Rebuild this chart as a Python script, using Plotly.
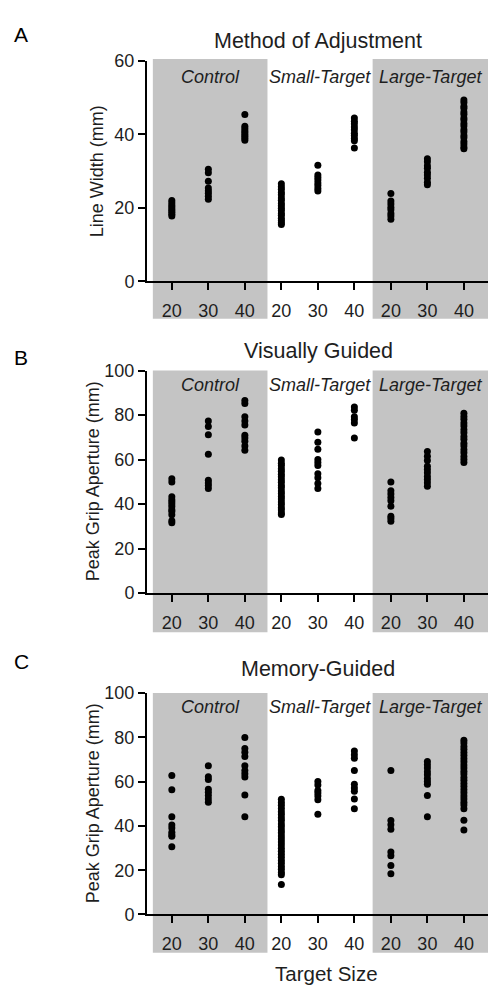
import plotly.graph_objects as go

# ---------------- data ----------------
groups = ["Control", "Small-Target", "Large-Target"]
sizes = [20, 30, 40]
panel_titles = ["Method of Adjustment", "Visually Guided", "Memory-Guided"]
panel_letters = ["A", "B", "C"]
y_titles = ["Line Width (mm)", "Peak Grip Aperture (mm)", "Peak Grip Aperture (mm)"]
y_max = [60, 100, 100]
x_title = "Target Size"

# Panel A: Method of Adjustment
A_ctrl_20 = [22.0, 21.4, 20.8, 20.3, 19.8, 19.3, 18.8, 18.3, 17.8]
A_ctrl_30 = [30.5, 29.6, 27.3, 25.4, 24.7, 24.0, 23.2, 22.4]
A_ctrl_40 = [45.4, 42.2, 41.6, 41.0, 40.5, 40.0, 39.5, 39.0, 38.4]
A_small_20 = [26.6, 25.8, 25.1, 24.2, 23.6, 22.7, 22.1, 21.2, 20.6, 19.9,
              19.3, 18.5, 18.0, 17.2, 16.6, 16.0, 15.5]
A_small_30 = [31.6, 29.0, 28.3, 27.6, 26.8, 26.1, 25.3, 24.6]
A_small_40 = [44.5, 43.6, 42.9, 42.0, 41.3, 40.3, 39.7, 38.9, 38.3, 36.3]
A_large_20 = [23.9, 21.9, 21.1, 20.2, 19.5, 18.5, 17.8, 16.9]
A_large_30 = [33.4, 32.6, 31.5, 30.8, 29.7, 29.0, 28.1, 27.0, 26.3]
A_large_40 = [49.4, 48.7, 47.7, 47.1, 46.1, 45.5, 44.5, 43.9, 43.0, 42.3,
              41.3, 40.7, 39.7, 39.1, 38.1, 37.4, 36.6, 36.1]

# Panel B: Visually Guided
B_ctrl_20 = [51.4, 49.9, 43.3, 42.0, 41.1, 40.0, 38.9, 37.5, 36.7, 35.2, 32.5, 31.6]
B_ctrl_30 = [77.4, 74.9, 71.2, 62.4, 50.7, 49.5, 48.3, 47.0]
B_ctrl_40 = [86.6, 85.2, 79.3, 77.4, 75.6, 71.0, 69.7, 68.3, 66.1, 64.2]
B_small_20 = [59.8, 58.4, 57.3, 55.9, 54.8, 53.4, 52.3, 50.9, 49.8, 48.4,
              47.3, 45.9, 44.8, 43.4, 42.3, 40.9, 39.8, 38.4, 37.3, 36.0, 35.3]
B_small_30 = [72.4, 67.8, 64.6, 60.0, 58.7, 57.3, 53.6, 51.8, 49.2, 47.0]
B_small_40 = [83.7, 82.2, 79.3, 78.0, 76.5, 69.7]
B_large_20 = [49.9, 46.0, 44.5, 43.0, 41.5, 39.0, 34.5, 33.5, 32.3]
B_large_30 = [63.6, 61.5, 59.6, 57.0, 55.6, 54.1, 52.4, 51.0, 49.6, 48.0]
B_large_40 = [80.8, 79.4, 78.1, 76.4, 75.1, 73.4, 72.1, 70.4, 69.1, 67.4,
              66.1, 64.4, 63.1, 61.4, 60.1, 58.7]

# Panel C: Memory-Guided
C_ctrl_20 = [62.8, 56.3, 44.1, 40.4, 39.0, 37.1, 36.0, 35.3, 30.6]
C_ctrl_30 = [67.2, 62.2, 61.0, 56.6, 55.2, 53.7, 52.2, 50.7]
C_ctrl_40 = [79.9, 75.0, 73.2, 71.3, 67.2, 65.0, 63.5, 62.1, 54.0, 44.1]
C_small_20 = [52.0, 50.6, 49.3, 47.9, 46.4, 45.1, 43.7, 42.4, 40.9, 39.6,
              38.2, 36.9, 35.4, 34.1, 32.7, 31.4, 29.9, 28.6, 27.2, 25.9,
              24.4, 23.1, 21.7, 20.4, 19.0, 17.9, 13.5]
C_small_30 = [60.0, 58.5, 56.0, 54.8, 53.5, 51.8, 45.3]
C_small_40 = [73.8, 72.1, 70.6, 65.0, 58.8, 57.1, 55.6, 52.2, 47.8]
C_large_20 = [65.0, 42.4, 40.5, 38.5, 28.2, 26.5, 22.1, 18.4]
C_large_30 = [69.1, 67.6, 66.1, 64.4, 63.1, 61.4, 60.1, 58.8, 53.7, 44.1]
C_large_40 = [78.7, 77.4, 75.9, 74.6, 73.1, 71.8, 70.3, 69.0, 67.5, 66.2,
              64.7, 63.4, 61.9, 60.6, 59.1, 57.8, 56.3, 55.0, 53.5, 52.2,
              50.7, 49.4, 47.8, 42.6, 38.2]

panels = [
    [[A_ctrl_20, A_ctrl_30, A_ctrl_40], [A_small_20, A_small_30, A_small_40], [A_large_20, A_large_30, A_large_40]],
    [[B_ctrl_20, B_ctrl_30, B_ctrl_40], [B_small_20, B_small_30, B_small_40], [B_large_20, B_large_30, B_large_40]],
    [[C_ctrl_20, C_ctrl_30, C_ctrl_40], [C_small_20, C_small_30, C_small_40], [C_large_20, C_large_30, C_large_40]],
]

# ---------------- layout geometry (pixels) ----------------
W, H = 490, 997
X_LEFT, X_RIGHT = 147, 488
X_RANGE = [0.32, 9.66]
geo = [
    dict(y0=277, ytop=52, btop=50, bbot=315, title=32, letter=25, glabel=68, ytx=97),
    dict(y0=595, ytop=368, btop=368, bbot=635, title=348, letter=355, glabel=383, ytx=92.5),
    dict(y0=923, ytop=697, btop=697, bbot=962, title=673, letter=665, glabel=711, ytx=92.5),
]
BANDS = [(0.48, 3.62), (6.5, 9.66)]
FONT = "Liberation Sans, Arial, Helvetica, sans-serif"
TXT = "#1e1e1e"


def py(px):
    return 1 - px / H


fig = go.Figure()
layout = dict(width=W, height=H, margin=dict(l=0, r=0, t=0, b=0),
              paper_bgcolor="white", plot_bgcolor="rgba(0,0,0,0)",
              showlegend=False, font=dict(family=FONT, color=TXT))
shapes, annotations = [], []

tickvals = [g * 3 + s + 1 for g in range(3) for s in range(3)]
ticktext = [str(sizes[s]) for g in range(3) for s in range(3)]

for p in range(3):
    sfx = "" if p == 0 else str(p + 1)
    xs, ys = [], []
    for g in range(3):
        for s in range(3):
            vals = panels[p][g][s]
            xs += [g * 3 + s + 1] * len(vals)
            ys += vals
    fig.add_trace(go.Scatter(x=xs, y=ys, mode="markers",
                             marker=dict(color="black", size=7, line=dict(width=0)),
                             xaxis="x" + sfx, yaxis="y" + sfx, hoverinfo="skip"))
    G = geo[p]
    axstyle = dict(showline=True, linecolor="black", linewidth=2, ticks="outside",
                   ticklen=7, tickwidth=2, tickcolor="black", showgrid=False,
                   zeroline=False, tickfont=dict(size=18, color=TXT, family=FONT))
    layout["xaxis" + sfx] = dict(domain=[X_LEFT / W, X_RIGHT / W], range=X_RANGE,
                                 tickmode="array", tickvals=tickvals, ticktext=ticktext,
                                 anchor="y" + sfx, ticklabelstandoff=5, **axstyle)
    layout["yaxis" + sfx] = dict(domain=[py(G["y0"]), py(G["ytop"])], range=[0, y_max[p]],
                                 dtick=20, tick0=0, anchor="x" + sfx,
                                 ticklabelstandoff=0, **axstyle)
    for (a, b) in BANDS:
        shapes.append(dict(type="rect", xref="x" + sfx, yref="paper", x0=a, x1=b,
                           y0=py(G["bbot"]), y1=py(G["btop"]), fillcolor="#c4c4c4",
                           line=dict(width=0), layer="below"))
    centers = [(BANDS[0][0] + BANDS[0][1]) / 2, (BANDS[0][1] + BANDS[1][0]) / 2,
               (BANDS[1][0] + BANDS[1][1]) / 2]
    for g in range(3):
        annotations.append(dict(text="<i>" + groups[g] + "</i>", xref="x" + sfx, yref="paper",
                                x=centers[g], y=py(G["glabel"]), showarrow=False,
                                font=dict(size=18, color=TXT), xanchor="center", yanchor="middle"))
    annotations.append(dict(text=panel_titles[p], xref="paper", yref="paper",
                            x=318 / W, y=py(G["title"]), showarrow=False,
                            font=dict(size=21.5, color=TXT), xanchor="center", yanchor="middle"))
    annotations.append(dict(text=panel_letters[p], xref="paper", yref="paper",
                            x=21 / W, y=py(G["letter"]), showarrow=False,
                            font=dict(size=21, color="black"), xanchor="center", yanchor="middle"))
    annotations.append(dict(text=y_titles[p], xref="paper", yref="paper", textangle=-90,
                            x=G["ytx"] / W, y=py((G["y0"] + G["ytop"]) / 2), showarrow=False,
                            font=dict(size=18, color=TXT), xanchor="center", yanchor="middle"))

annotations.append(dict(text=x_title, xref="paper", yref="paper", x=326 / W, y=py(983),
                        showarrow=False, font=dict(size=20.5, color=TXT),
                        xanchor="center", yanchor="middle"))

layout["shapes"] = shapes
layout["annotations"] = annotations
fig.update_layout(**layout)
fig.write_html("out.html")
